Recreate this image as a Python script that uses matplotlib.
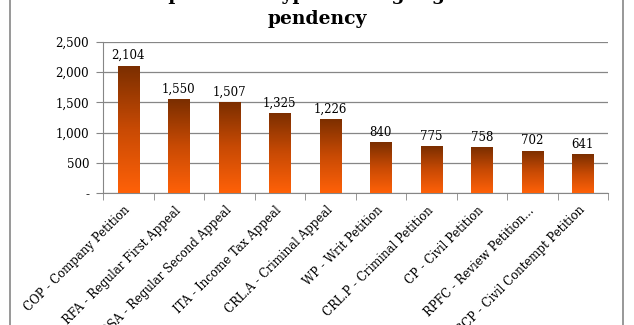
import numpy as np
import matplotlib
matplotlib.use('Agg')
import matplotlib.pyplot as plt
from matplotlib.colors import LinearSegmentedColormap
from matplotlib.lines import Line2D

categories = ['COP - Company Petition', 'RFA - Regular First Appeal',
              'RSA - Regular Second Appeal', 'ITA - Income Tax Appeal',
              'CRL.A - Criminal Appeal', 'WP - Writ Petition',
              'CRL.P - Criminal Petition', 'CP - Civil Petition',
              'RPFC - Review Petition...', 'CCP - Civil Contempt Petition']
cases = [2104, 1550, 1507, 1325, 1226, 840, 775, 758, 702, 641]
yticks = [0, 500, 1000, 1500, 2000, 2500]
ytick_labels = ['-', '500', '1,000', '1,500', '2,000', '2,500']

plt.rcParams['font.family'] = ['DejaVu Serif']
grey = '#868686'

fig = plt.figure(figsize=(6.34, 3.25), dpi=100)
ax = fig.add_axes([0.1625, 0.406, 0.7965, 0.465])

x = np.arange(len(cases))
w = 0.42
bars = ax.bar(x, cases, width=w, color='none', edgecolor='none', zorder=3)

# vertical gradient: dark brown top -> orange bottom
cmap = LinearSegmentedColormap.from_list('bar', ['#ff6108', '#c84a04', '#7a2e00'])
grad = np.linspace(0, 1, 256).reshape(-1, 1)
for b in bars:
    x0, h = b.get_x(), b.get_height()
    im = ax.imshow(grad, cmap=cmap, origin='lower', aspect='auto',
                   extent=[x0, x0 + w, 0, h], zorder=3)
    im.set_clip_path(b)
    ax.text(x0 + w / 2, h + 60, f'{h:,}', ha='center', va='bottom',
            fontsize=8.5, color='black')

ax.set_xlim(-0.5, len(cases) - 0.5)
ax.set_ylim(0, 2500)
ax.set_yticks(yticks)
ax.set_yticklabels(ytick_labels, fontsize=8.5)
ax.yaxis.grid(True, color=grey, linewidth=0.9, zorder=0)
ax.set_axisbelow(True)

ax.set_xticks(x)
ax.set_xticklabels(categories, fontsize=8.5, rotation=45, ha='right',
                   va='center', rotation_mode='anchor')
ax.tick_params(axis='x', which='major', length=0, pad=11)
ax.set_xticks(np.arange(-0.5, len(cases), 1), minor=True)
ax.tick_params(axis='x', which='minor', length=5, color=grey, direction='out')
ax.tick_params(axis='y', length=5, color=grey, pad=5)

for s in ['top', 'right']:
    ax.spines[s].set_visible(False)
for s in ['left', 'bottom']:
    ax.spines[s].set_color(grey)

# title: first line sits mostly above the top edge, as in the source crop
fig.text(0.5, 1.0, 'Top 10 case types having highest', ha='center',
         va='baseline', fontsize=13.5, fontweight='bold')
fig.text(0.5, 1 - 24 / 325, 'pendency', ha='center', va='baseline',
         fontsize=13.5, fontweight='bold')

for xf in [10 / 634, 623 / 634]:
    fig.add_artist(Line2D([xf, xf], [0, 1], color=grey, linewidth=1.2,
                          transform=fig.transFigure))

fig.savefig('out.png', dpi=100)
